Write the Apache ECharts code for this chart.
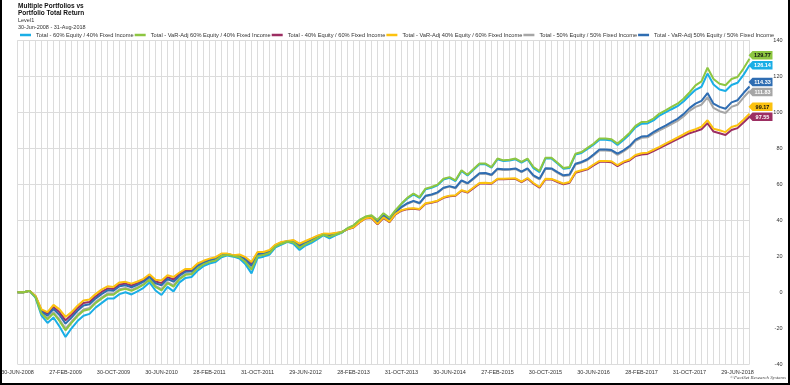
<!DOCTYPE html>
<html><head><meta charset="utf-8">
<script src="https://cdn.jsdelivr.net/npm/echarts@6/dist/echarts.min.js"></script>
<style>
html,body{margin:0;padding:0;background:#fff}
#c{position:absolute;left:0;top:0;width:790px;height:385px}
#frame{position:absolute;left:0;top:0;width:790px;height:385px;box-sizing:border-box;border-left:2px solid #000;border-right:2px solid #000;border-bottom:2px solid #000;pointer-events:none}
</style></head>
<body><div id="c"></div><div id="frame"></div>
<script>
// ---- categories: last business day of each month, Jun-2008 .. Aug-2018
const startYear = 2008, startMonth = 5, monthCount = 123;
const monthNames = ['JAN','FEB','MAR','APR','MAY','JUN','JUL','AUG','SEP','OCT','NOV','DEC'];
const categories = [];
for (let k = 0; k < monthCount; k++) {
  const y = startYear + Math.floor((startMonth + k) / 12), m = (startMonth + k) % 12;
  const d = new Date(Date.UTC(y, m + 1, 0));
  while (d.getUTCDay() === 0 || d.getUTCDay() === 6) d.setUTCDate(d.getUTCDate() - 1);
  categories.push(String(d.getUTCDate()).padStart(2, '0') + '-' + monthNames[m] + '-' + y);
}
const yTicks = { min: -40, max: 140, interval: 20 };

const seriesNames = [
  'Total - 60% Equity / 40% Fixed Income',
  'Total - VaR-Adj 60% Equity / 40% Fixed Income',
  'Total - 40% Equity / 60% Fixed Income',
  'Total - VaR-Adj 40% Equity / 60% Fixed Income',
  'Total - 50% Equity / 50% Fixed Income',
  'Total - VaR-Adj 50% Equity / 50% Fixed Income'
];

const eq60 = [0,0,0.8,-3,-13,-17,-14,-19,-24.8,-20,
 -16,-13,-12,-8.5,-6,-3.5,-3.5,-1,0,-1.2,
 0.5,2.5,5.5,1,-1.5,3,0.5,5.5,8,8.5,
 12,14.5,16,16.8,19.5,20.5,19.8,18.8,15.5,10.5,
 19,19.8,21,25,26.5,28,27,23.5,26,27.5,
 29.5,31.7,30,31.7,33,35.5,37,40,41.8,42.5,
 39.8,43.5,41,45.3,49.0,52.2,54.4,52.5,57.2,58.1,
 59.4,62.7,63.6,61.8,67.4,64.9,68.1,71.1,71.1,69.2,
 73.9,72.9,73.2,73.9,72.0,73.9,69.0,66.8,74.4,74.4,
 71.5,68.6,69.1,76.5,77.4,79.7,82.0,84.8,84.8,84.3,
 81.9,84.6,87.7,91.6,93.7,93.8,95.5,98.2,99.9,101.7,
 103.4,106.0,109.3,112.5,114.2,121.5,115.4,112.7,111.8,115.2,
 116.4,120.8,126.14];
const varEq60 = [0,0,0.8,-2.7,-11.8,-15.0,-11.7,-15.9,-21.1,-17.0,
 -13.2,-10.2,-9.4,-6.0,-3.5,-1.3,-1.4,1.1,1.9,0.8,
 2.3,4.2,7.0,3.0,1.1,5.1,3.1,7.3,9.7,10.0,
 13.3,15.5,16.9,17.7,20.2,20.8,20.1,19.5,16.8,12.6,
 20.1,20.7,21.8,25.5,27.0,28.2,27.7,24.7,26.8,28.3,
 30.2,32.0,30.8,32.1,33.2,35.6,37.2,40.2,42.1,42.8,
 40.2,43.9,41.4,45.6,49.3,52.6,54.8,52.9,57.6,58.5,
 59.8,63.1,64.0,62.2,67.8,65.3,68.5,71.5,71.5,69.6,
 74.3,73.3,73.6,74.3,72.4,74.3,69.6,67.4,74.8,74.8,
 72.0,69.1,69.6,77.0,77.9,80.2,82.5,85.4,85.4,85.0,
 82.6,85.4,88.5,92.5,94.6,94.8,96.5,99.3,101.1,103.0,
 104.8,107.5,111.0,115.0,117.2,124.8,118.5,115.9,115.0,118.5,
 119.6,124.3,129.77];
const eq40 = [0,0,0.8,-2.2,-10.1,-12.0,-8.2,-11.1,-15.6,-12.5,
 -8.9,-5.9,-5.4,-2.3,0.2,2.1,1.9,4.4,4.8,3.8,
 5.1,6.7,9.2,6.0,5.1,8.4,7.1,10.1,12.2,12.2,
 15.3,17.0,18.2,19.0,21.2,21.3,20.5,20.6,18.8,15.7,
 21.8,22.0,23.1,26.2,27.7,28.4,28.7,26.4,28.1,29.6,
 31.2,32.4,32.1,32.8,33.4,35.0,36.0,38.8,41.0,41.3,
 37.7,41.3,39.0,43.3,45.3,46.2,46.4,46.0,49.2,49.7,
 50.6,52.5,53.4,53.6,56.4,55.4,57.9,60.4,60.5,60.3,
 62.8,62.8,62.9,63.0,61.2,63.2,60.3,58.1,62.8,62.7,
 61.3,60.0,60.9,66.4,67.4,68.3,70.5,72.5,72.5,72.3,
 70.1,72.1,73.2,75.7,76.6,76.9,78.5,80.1,81.8,83.5,
 85.1,86.8,88.4,89.4,90.6,94.0,89.3,88.4,87.4,90.2,
 91.2,94.3,97.55];
const varEq40 = [0,0,0.8,-2,-9.5,-11,-7,-9.5,-13.7,-11,
 -7.5,-4.5,-4,-1,1.5,3.3,3,5.5,5.8,4.8,
 6,7.5,10,7,6.5,9.5,8.5,11,13,13,
 16,17.5,18.7,19.5,21.5,21.5,20.6,21,19.5,16.8,
 22.4,22.4,23.5,26.5,28,28.5,29,27,28.5,30,
 31.5,32.6,32.5,33,33.5,35.1,36.1,39,41.2,41.5,
 38,41.6,39.3,43.6,45.6,46.5,46.7,46.3,49.5,50.0,
 50.9,52.8,53.7,53.9,56.7,55.7,58.2,60.7,60.8,60.6,
 63.1,63.1,63.2,63.3,61.5,63.5,60.7,58.5,63.1,63.0,
 61.7,60.4,61.3,66.8,67.8,68.7,71,73.0,73.0,72.8,
 70.6,72.6,73.8,76.3,77.2,77.6,79.2,80.8,82.6,84.3,
 86.0,87.8,89.5,90.6,92.0,95.6,90.9,90.0,89.0,91.8,
 92.8,95.9,99.17];
const eq50 = [0,0,0.8,-2.6,-11.6,-14.5,-11.1,-15.1,-20.2,-16.3,
 -12.5,-9.5,-8.7,-5.4,-2.9,-0.7,-0.8,1.7,2.4,1.3,
 2.8,4.6,7.3,3.5,1.8,5.7,3.8,7.8,10.1,10.3,
 13.6,15.7,17.1,17.9,20.3,20.9,20.1,19.7,17.1,13.1,
 20.4,20.9,22.0,25.6,27.1,28.2,27.8,24.9,27.0,28.5,
 30.3,32.1,31.0,32.2,33.2,35.3,36.5,39.4,41.5,42.0,
 38.9,42.4,40.1,44.3,47.2,49.2,50.5,49.3,53.3,54.0,
 55.2,57.8,58.7,57.8,61.9,60.3,63.0,65.9,66.0,65.0,
 68.4,68.0,68.1,68.5,66.7,68.6,64.6,62.7,68.6,68.5,
 66.4,64.6,65.0,71.0,72.0,73.5,76.0,78.8,78.8,78.5,
 76.4,78.3,80.6,84.1,85.8,86.1,88.2,90.0,91.6,93.4,
 95.2,97.7,100.8,103.0,104.2,108.3,102.4,100.6,99.6,103.0,
 104.2,108.2,111.83];
const varEq50 = [0,0,0.8,-2.3,-10.7,-13.0,-9.3,-12.6,-17.4,-14.0,
 -10.3,-7.3,-6.6,-3.5,-1.0,1.1,0.9,3.4,3.9,2.8,
 4.2,5.9,8.5,5.0,3.9,7.4,5.9,9.2,11.4,11.5,
 14.7,16.5,17.8,18.6,20.8,21.2,20.3,20.3,18.2,14.7,
 21.3,21.5,22.7,26.0,27.5,28.3,28.3,25.8,27.7,29.2,
 30.8,32.3,31.7,32.6,33.3,35.3,36.6,39.5,41.6,42.1,
 39.0,42.6,40.3,44.5,47.4,49.5,50.8,49.6,53.6,54.3,
 55.5,58.1,59.0,58.1,62.2,60.6,63.3,66.2,66.3,65.3,
 68.7,68.3,68.4,68.8,67.0,68.9,65.0,63.1,68.9,68.8,
 66.8,65.0,65.4,71.4,72.4,73.9,76.5,79.3,79.3,79.0,
 77.0,78.9,81.2,84.8,86.5,86.8,89.0,90.9,92.6,94.5,
 96.4,99.0,102.3,104.8,106.3,110.7,104.8,103.0,102.0,105.5,
 106.7,110.7,114.33];

const seriesData = [eq60, varEq60, eq40, varEq40, eq50, varEq50];
const colors = ['#1aaee6', '#8dc641', '#9c2e62', '#fcc20f', '#a6a6a6', '#2f6db2'];
const labelTextColors = ['#fff', '#111', '#fff', '#111', '#fff', '#fff'];
const labelOffsets = [0, -3.5, 0, -7, 1, -4.5];
const drawOrder = [4, 2, 0, 5, 3, 1];

const font = 'Liberation Sans, Arial, sans-serif';
const chart = echarts.init(document.getElementById('c'), null, { renderer: 'canvas' });
const last = categories.length - 1;

const series = drawOrder.map(k => ({
  name: seriesNames[k],
  type: 'line',
  data: seriesData[k],
  symbol: 'none',
  lineStyle: { width: 2, color: colors[k] },
  itemStyle: { color: colors[k] },
  emphasis: { disabled: true },
  animation: false,
  markPoint: {
    silent: true,
    animation: false,
    symbol: 'path://M0,5 L4,0 L24,0 L24,10 L4,10 Z',
    symbolSize: [24, 8.5],
    symbolOffset: [11, labelOffsets[k]],
    symbolKeepAspect: false,
    itemStyle: { color: colors[k] },
    label: {
      show: true, position: 'inside', offset: [2, 0.3],
      formatter: p => Number(p.value).toFixed(2),
      color: labelTextColors[k], fontFamily: font, fontSize: 5.5, fontWeight: 'bold'
    },
    data: [{ coord: [categories[last], seriesData[k][last]], value: seriesData[k][last] }]
  }
}));

chart.setOption({
  animation: false,
  backgroundColor: '#fff',
  color: colors,
  title: [
    { text: 'Multiple Portfolios vs', left: 18, top: 2.5, padding: 0, textStyle: { fontFamily: font, fontSize: 6.5, fontWeight: 'bold', color: '#111' } },
    { text: 'Portfolio Total Return', left: 18, top: 10, padding: 0, textStyle: { fontFamily: font, fontSize: 6.5, fontWeight: 'bold', color: '#111' } },
    { text: 'Level1', left: 18, top: 17.5, padding: 0, textStyle: { fontFamily: font, fontSize: 5.5, fontWeight: 'normal', color: '#333' } },
    { text: '30-Jun-2008 - 31-Aug-2018', left: 18, top: 24, padding: 0, textStyle: { fontFamily: font, fontSize: 5.5, fontWeight: 'normal', color: '#333' } },
    { text: '©FactSet Research Systems', right: 4, top: 375, padding: 0, textStyle: { fontFamily: 'Liberation Serif, serif', fontSize: 5, fontStyle: 'italic', fontWeight: 'normal', color: '#444' } }
  ],
  legend: {
    left: 20, top: 32, padding: 0, width: 765,
    data: seriesNames,
    icon: 'rect', itemWidth: 11, itemHeight: 2.5, itemGap: 1,
    textStyle: { fontFamily: font, fontSize: 5.7, color: '#333' },
    selectedMode: false
  },
  grid: { left: 17.5, right: 40.5, top: 40.3, bottom: 20.7, containLabel: false, outerBoundsMode: 'none' },
  xAxis: {
    type: 'category', data: categories, boundaryGap: false,
    axisLine: { show: false }, axisTick: { show: false },
    axisLabel: { interval: 7, fontFamily: font, fontSize: 5.5, color: '#333', margin: 5 },
    splitLine: { show: true, interval: 0, lineStyle: { color: '#dcdcdc', width: 1 } }
  },
  yAxis: {
    type: 'value', position: 'right', min: yTicks.min, max: yTicks.max, interval: yTicks.interval,
    axisLine: { show: false }, axisTick: { show: false },
    axisLabel: { fontFamily: font, fontSize: 5.5, color: '#333', margin: 33, align: 'right' },
    splitLine: { show: true, lineStyle: { color: '#dcdcdc', width: 1 } }
  },
  series: series
});
</script>
</body></html>
